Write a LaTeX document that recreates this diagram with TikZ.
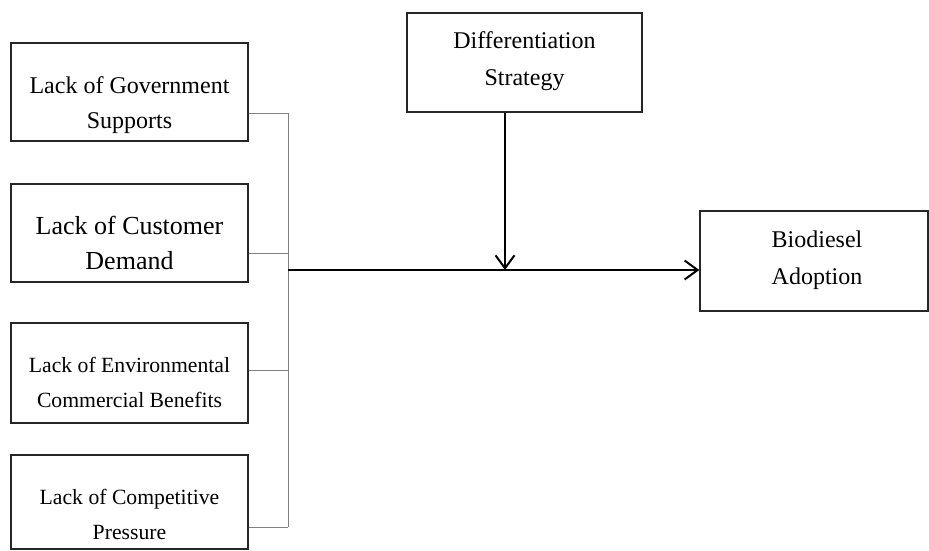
\documentclass[tikz,border=0pt]{standalone}
\usepackage{fontspec}
\setmainfont{Liberation Serif}
\usetikzlibrary{arrows.meta}
\tikzset{
  box/.style={draw=black!85, line width=1.4pt, rectangle, inner sep=0pt},
  txt/.style={align=center, inner sep=0pt},
  fa/.style={font=\fontsize{24}{35}\selectfont},
  fd/.style={font=\fontsize{24}{36.5}\selectfont},
  fb/.style={font=\fontsize{26}{35}\selectfont},
  fc/.style={font=\fontsize{21.7}{34.5}\selectfont},
  busline/.style={draw=black!50, line width=1pt},
  mainline/.style={draw=black, line width=2.2pt},
  tip/.style={-{Straight Barb[length=13pt,width=19pt,line width=2pt]}}
}
\begin{document}
\begin{tikzpicture}[x=1pt,y=-1pt]
\useasboundingbox (0,0) rectangle (929,550);
% boxes
\node[box, minimum width=237pt, minimum height=98pt] (g) at (129.5,92) {};
\node[box, minimum width=237pt, minimum height=98pt] (c) at (129.5,233) {};
\node[box, minimum width=237pt, minimum height=100pt] (e) at (129.5,373) {};
\node[box, minimum width=237pt, minimum height=94pt] (p) at (129.5,502) {};
\node[box, minimum width=235pt, minimum height=99pt] (d) at (524.5,62.5) {};
\node[box, minimum width=228pt, minimum height=100pt] (b) at (814,261) {};
% texts
\node[txt, fa] (gt) at (129.5,105.5) {Lack of Government\\Supports};
\node[txt, fb] (ct) at (129.5,243) {Lack of Customer\\Demand};
\node[txt, fc] (et) at (129.5,382.5) {Lack of Environmental\\Commercial Benefits};
\node[txt, fc] (pt) at (129.5,514.5) {Lack of Competitive\\Pressure};
\node[txt, fd] (dt) at (524.5,61) {Differentiation\\Strategy};
\node[txt, fd] (bt) at (817,260) {Biodiesel\\Adoption};
% bus
\coordinate (bus) at (288,270);
\draw[busline] ([yshift=-21pt]g.east) -- ([yshift=-21pt]g.east -| bus);
\draw[busline] ([yshift=-20pt]c.east) -- ([yshift=-20pt]c.east -| bus);
\draw[busline] ([yshift=3pt]e.east) -- ([yshift=3pt]e.east -| bus);
\draw[busline] ([yshift=-25pt]p.east) -- ([yshift=-25pt]p.east -| bus);
\draw[busline] ([yshift=-21pt]g.east -| bus) -- ([yshift=-25pt]p.east -| bus);
% arrows
\draw[mainline, tip] (bus) -- (bus -| b.west);
\draw[mainline, tip] ([xshift=-19.5pt]d.south) -- ([xshift=-19.5pt]d.south |- bus);
\end{tikzpicture}
\end{document}
